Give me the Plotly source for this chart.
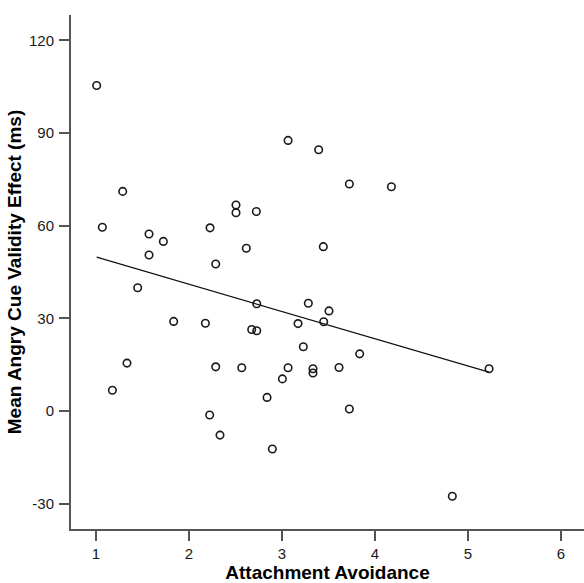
import numpy as np
import plotly.graph_objects as go

# Attachment Avoidance (x) and Mean Angry Cue Validity Effect in ms (y)
avoidance = [1.007, 1.287, 1.068, 1.570, 1.724, 1.570, 1.448, 2.226, 2.287, 2.505,
             2.505, 2.724, 2.616, 3.065, 3.394, 3.724, 4.176, 3.444, 1.835, 2.176,
             2.728, 2.674, 2.728, 1.333, 1.176, 2.287, 2.567, 3.065, 3.004, 2.839,
             2.222, 2.333, 2.896, 3.172, 3.283, 3.505, 3.448, 3.229, 3.835, 3.333,
             3.333, 3.613, 3.724, 5.226, 4.831]
validity_effect = [105.4, 71.1, 59.5, 57.3, 54.9, 50.5, 39.9, 59.3, 47.6, 66.7,
                   64.2, 64.6, 52.7, 87.6, 84.6, 73.5, 72.6, 53.2, 29.0, 28.4,
                   34.7, 26.4, 26.0, 15.5, 6.7, 14.3, 14.0, 14.0, 10.4, 4.4,
                   -1.3, -7.8, -12.3, 28.3, 34.9, 32.4, 28.9, 20.8, 18.5, 13.7,
                   12.3, 14.1, 0.65, 13.7, -27.6]

x_ticks = [1, 2, 3, 4, 5, 6]
x_tick_labels = ["1", "2", "3", "4", "5", "6"]
y_ticks = [-30, 0, 30, 60, 90, 120]
y_tick_labels = ["-30", "0", "30", "60", "90", "120"]
x_title = "Attachment Avoidance"
y_title = "Mean Angry Cue Validity Effect (ms)"

# linear fit line computed from the data
x_arr = np.array(avoidance)
y_arr = np.array(validity_effect)
slope, intercept = np.polyfit(x_arr, y_arr, 1)
fit_x = np.array([x_arr.min(), x_arr.max()])
fit_y = intercept + slope * fit_x

fig = go.Figure()
fig.add_trace(go.Scatter(
    x=avoidance, y=validity_effect, mode="markers",
    marker=dict(symbol="circle-open", size=7.5, color="#1a1a1a",
                line=dict(width=1.6, color="#1a1a1a")),
    showlegend=False, hoverinfo="x+y"))
fig.add_trace(go.Scatter(
    x=fit_x, y=fit_y, mode="lines",
    line=dict(color="#111111", width=1.2),
    showlegend=False, hoverinfo="skip"))

axis_common = dict(
    showline=True, linecolor="#555555", linewidth=2,
    ticks="outside", ticklen=10, tickwidth=1.5, tickcolor="#555555",
    showgrid=False, zeroline=False,
    tickfont=dict(family="Liberation Sans, Arial, sans-serif", size=15, color="#1a1a1a"),
)

fig.update_layout(
    width=584, height=583,
    margin=dict(l=71, r=0, t=15, b=54),
    paper_bgcolor="white", plot_bgcolor="white",
    xaxis=dict(range=[0.731, 6.247], tickvals=x_ticks, ticktext=x_tick_labels,
               title=dict(text=x_title, standoff=6,
                          font=dict(family="Liberation Sans, Arial, sans-serif",
                                    size=19, color="#000000", weight="bold")),
               **axis_common),
    yaxis=dict(range=[-38.2, 128.2], tickvals=y_ticks, ticktext=y_tick_labels,
               ticklabelstandoff=2,
               title=dict(text=y_title, standoff=2,
                          font=dict(family="Liberation Sans, Arial, sans-serif",
                                    size=19, color="#000000", weight="bold")),
               **axis_common),
)

fig.write_html("out.html")
